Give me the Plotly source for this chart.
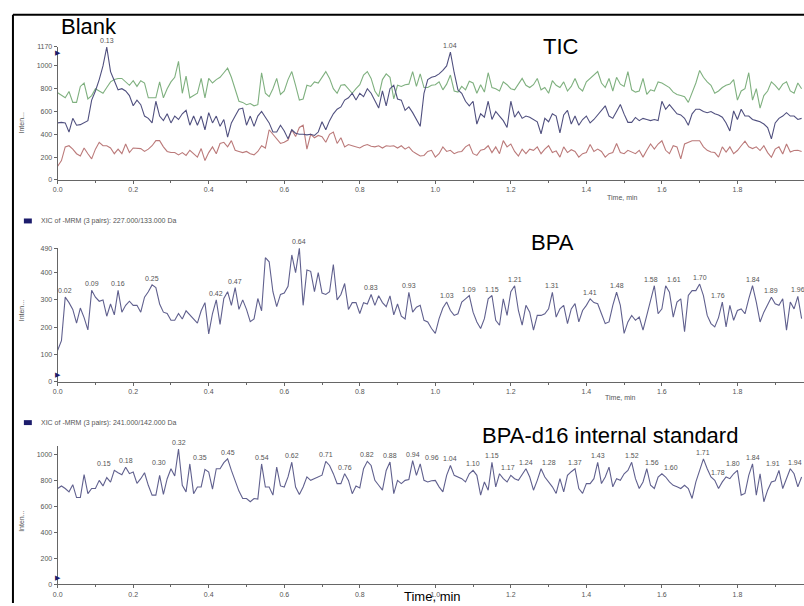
import plotly.graph_objects as go

W, H = 804, 606

# ---------------- data ----------------
time_min = [round(i * 0.01, 2) for i in range(198)]

tic_navy = [
    500, 505, 500, 420, 540, 480, 485, 500, 520, 700, 780, 880, 1000, 1165, 950, 870, 790, 800, 780, 740,
    650, 700, 660, 560, 540, 500, 690, 560, 520, 580, 500, 560, 530, 580, 610, 480, 560, 480, 560, 440,
    590, 500, 560, 470, 530, 375, 500, 560, 620, 630, 480, 560, 470, 560, 600, 550, 500, 420, 420, 480,
    430, 360, 440, 410, 400, 400, 395, 400, 390, 420, 510, 440, 520, 580, 620, 640, 700, 720, 760, 700,
    760, 730, 800, 760, 700, 630, 780, 650, 800, 830, 710, 700, 610, 640, 590, 530, 470, 760, 880, 900,
    910, 930, 960, 1000, 1120, 940, 790, 760, 690, 650, 690, 490, 580, 550, 690, 530, 600, 560, 520, 460,
    690, 550, 600, 540, 560, 550, 530, 510, 405, 540, 510, 580, 560, 413, 570, 610, 490, 560, 480, 530,
    560, 500, 530, 570, 600, 650, 560, 540, 600, 662, 577, 505, 505, 548, 520, 540, 530, 520, 530, 520,
    690, 620, 660, 620, 580, 570, 540, 480, 580, 620, 620, 600, 590, 600, 580, 570, 550, 500, 430, 605,
    530, 620, 560, 560, 530, 520, 510, 490, 460, 360, 500, 540, 560, 590, 560, 560, 530, 540,
]

tic_green = [
    765, 740, 720, 775, 680, 680, 820, 850, 710, 740, 800, 780, 760, 810, 860, 880, 890, 890, 860, 830,
    870, 820, 870, 850, 720, 720, 720, 860, 720, 800, 860, 900, 1040, 760, 910, 720, 740, 760, 890, 720,
    890, 850, 880, 900, 940, 980, 900, 800, 690, 680, 660, 670, 650, 660, 940, 760, 730, 800, 890, 750,
    780, 880, 950, 830, 700, 710, 830, 820, 860, 850, 900, 950, 890, 800, 760, 830, 835, 800, 760, 800,
    835, 920, 950, 890, 780, 730, 880, 930, 900, 710, 830, 820, 835, 840, 950, 820, 930, 810, 810, 830,
    835, 860, 790, 840, 920, 780, 770, 820, 790, 865, 850, 760, 835, 770, 940, 810, 800, 780, 860, 835,
    800, 790, 835, 890, 830, 810, 835, 890, 790, 810, 760, 870, 830, 810, 860, 780, 820, 890, 810, 780,
    860, 890, 920, 950, 850, 810, 890, 780, 900, 840, 820, 950, 790, 770, 780, 890, 750, 790, 780, 860,
    850, 830, 810, 770, 750, 740, 730, 680, 760, 850, 960, 900, 860, 830, 760, 780, 810, 830, 840, 880,
    700, 780, 800, 940, 700, 800, 630, 740, 780, 860, 830, 790, 840, 860, 780, 760, 850, 800,
]

tic_red = [
    120, 170, 290, 300, 270, 230, 210, 280, 230, 185, 270, 330, 300, 300, 280, 230, 270, 230, 315, 240,
    280, 275, 275, 250, 270, 300, 345, 345, 290, 250, 240, 240, 220, 240, 215, 260, 230, 200, 275, 170,
    240, 290, 230, 320, 330, 290, 345, 260, 250, 240, 250, 230, 220, 250, 300, 280, 440, 400, 360, 320,
    330, 350, 440, 380, 460, 480, 270, 400, 370, 390, 380, 330, 400, 420, 320, 370, 290, 310, 300, 290,
    280, 300, 310, 295, 290, 300, 280, 300, 295, 300, 280, 300, 270, 290, 250, 230, 210, 215, 250, 260,
    200, 230, 290, 250, 260, 230, 245, 250, 290, 310, 230, 215, 260, 270, 300, 240, 290, 230, 345, 290,
    315, 250, 210, 270, 230, 270, 260, 290, 230, 270, 300, 240, 255, 200, 290, 240, 265, 250, 200, 230,
    240, 310, 250, 270, 250, 200, 230, 240, 320, 240, 230, 260, 245, 230, 260, 200, 260, 315, 270, 315,
    344, 260, 230, 300, 290, 185, 315, 330, 344, 344, 344, 290, 260, 245, 240, 200, 290, 245, 290, 230,
    258, 300, 340, 290, 275, 290, 258, 300, 240, 199, 270, 290, 228, 315, 245, 258, 260, 250,
]

bpa = [
    115, 150, 310, 290, 265, 215, 270, 235, 190, 335, 310, 295, 300, 240, 285, 245, 335, 255, 280, 295,
    280, 280, 255, 310, 330, 355, 345, 285, 255, 250, 225, 225, 250, 230, 260, 245, 230, 215, 260, 290,
    175, 250, 300, 210, 305, 330, 280, 345, 265, 300, 265, 220, 230, 305, 260, 455, 440, 330, 275, 320,
    325, 350, 465, 400, 490, 280, 410, 405, 330, 400, 325, 320, 330, 430, 300, 320, 360, 265, 290, 290,
    250, 290, 285, 320, 280, 315, 290, 275, 315, 245, 285, 240, 230, 328, 255, 273, 280, 225, 219, 195,
    177, 231, 270, 292, 261, 243, 249, 292, 304, 316, 255, 219, 195, 231, 304, 316, 225, 207, 304, 243,
    330, 352, 261, 207, 280, 255, 189, 243, 243, 249, 267, 328, 237, 267, 280, 213, 267, 286, 219, 261,
    280, 304, 290, 286, 249, 213, 219, 280, 328, 280, 177, 219, 243, 225, 237, 189, 243, 300, 352, 249,
    267, 352, 328, 237, 292, 304, 183, 316, 334, 334, 358, 316, 243, 213, 201, 235, 292, 201, 280, 225,
    261, 267, 249, 304, 352, 292, 219, 255, 285, 310, 286, 280, 304, 189, 292, 267, 313, 231,
]

bpa_d16 = [
    740, 760, 740, 714, 770, 670, 670, 847, 700, 740, 740, 803, 760, 825, 790, 880, 862, 847, 905, 855,
    867, 780, 816, 862, 765, 689, 689, 842, 694, 816, 893, 837, 1045, 765, 714, 930, 700, 752, 752, 888,
    867, 735, 893, 893, 940, 970, 880, 800, 720, 663, 663, 638, 663, 658, 930, 752, 752, 689, 905, 760,
    752, 830, 943, 752, 694, 752, 830, 803, 816, 830, 843, 950, 918, 855, 778, 778, 855, 803, 700, 760,
    745, 893, 950, 918, 803, 765, 727, 880, 945, 700, 803, 778, 803, 810, 956, 842, 931, 803, 791, 800,
    803, 753, 714, 842, 918, 842, 829, 816, 791, 854, 880, 842, 689, 791, 727, 943, 753, 854, 816, 791,
    842, 816, 803, 850, 893, 829, 727, 803, 893, 829, 791, 753, 702, 816, 714, 842, 870, 893, 740, 702,
    778, 778, 816, 943, 778, 829, 905, 753, 816, 803, 854, 880, 943, 816, 740, 791, 893, 765, 740, 829,
    854, 829, 791, 765, 753, 740, 765, 740, 663, 791, 880, 969, 893, 829, 803, 740, 791, 829, 816, 854,
    880, 689, 702, 842, 931, 689, 854, 638, 727, 791, 800, 880, 740, 816, 893, 854, 753, 829,
]

tic_peaks = [0.13, 1.04]
bpa_peaks = [0.02, 0.09, 0.16, 0.25, 0.42, 0.47, 0.64, 0.83, 0.93, 1.03, 1.09, 1.15, 1.21,
             1.31, 1.41, 1.48, 1.58, 1.61, 1.70, 1.76, 1.84, 1.89, 1.96]
d16_peaks = [0.15, 0.18, 0.30, 0.32, 0.35, 0.45, 0.54, 0.62, 0.71, 0.76, 0.82, 0.88, 0.94,
             0.96, 1.04, 1.10, 1.15, 1.17, 1.24, 1.28, 1.37, 1.43, 1.52, 1.56, 1.60, 1.71,
             1.78, 1.80, 1.84, 1.91, 1.94]

x_ticks = [0.0, 0.2, 0.4, 0.6, 0.8, 1.0, 1.2, 1.4, 1.6, 1.8]
x_tick_text = ["0.0", "0.2", "0.4", "0.6", "0.8", "1.0", "1.2", "1.4", "1.6", "1.8"]
tic_yticks = [0, 200, 400, 600, 800, 1000, 1170]
bpa_yticks = [0, 100, 200, 300, 400, 490]
d16_yticks = [0, 200, 400, 600, 800, 1000]

# label displacement (pixels) used by the original software to avoid label collisions
bpa_label_shift = {1.58: -3, 1.61: 8, 1.76: -4}
d16_label_shift = {0.15: -10, 0.30: -12, 0.35: 10, 0.96: 12, 1.17: 8, 1.28: 8, 1.56: 5,
                   1.60: 9, 1.78: -12, 1.80: -4, 1.91: -6, 1.94: 5}

# ---------------- figure ----------------
def fx(p):
    return p / W

def fy(p):
    return 1 - p / H

fig = go.Figure()
lw = 1.1
fig.add_trace(go.Scatter(x=time_min, y=tic_green, mode="lines", line=dict(color="#7fb07f", width=lw),
                         xaxis="x", yaxis="y", hoverinfo="skip"))
fig.add_trace(go.Scatter(x=time_min, y=tic_red, mode="lines", line=dict(color="#bb7a7a", width=lw),
                         xaxis="x", yaxis="y", hoverinfo="skip"))
fig.add_trace(go.Scatter(x=time_min, y=tic_navy, mode="lines", line=dict(color="#50507f", width=lw),
                         xaxis="x", yaxis="y", hoverinfo="skip"))
fig.add_trace(go.Scatter(x=time_min, y=bpa, mode="lines", line=dict(color="#60608e", width=lw),
                         xaxis="x2", yaxis="y2", hoverinfo="skip"))
fig.add_trace(go.Scatter(x=time_min, y=bpa_d16, mode="lines", line=dict(color="#60608e", width=lw),
                         xaxis="x3", yaxis="y3", hoverinfo="skip"))

axis_col = "#666666"
tick_font = dict(family="Arial, Liberation Sans, sans-serif", size=7, color="#555555")
xrange = [0, (W - 53) / 380.0]

def xaxis_cfg(anchor):
    return dict(domain=[fx(53), 1.0], range=xrange, anchor=anchor, showline=True, linecolor=axis_col,
                linewidth=1, ticks="outside", ticklen=3, tickcolor=axis_col, tickvals=x_ticks,
                ticktext=x_tick_text, tickfont=tick_font, showgrid=False, zeroline=False,
                minor=dict(tickvals=[0.1, 0.3, 0.5, 0.7, 0.9, 1.1, 1.3, 1.5, 1.7, 1.9],
                           ticks="outside", ticklen=2, tickcolor=axis_col))

def yaxis_cfg(anchor, top_px, bottom_px, rng, vals):
    return dict(domain=[fy(bottom_px), fy(top_px)], range=rng, anchor=anchor, showline=True,
                linecolor=axis_col, linewidth=1, ticks="outside", ticklen=3, tickcolor=axis_col,
                tickvals=vals, tickfont=tick_font, showgrid=False, zeroline=False)

layout = dict(
    width=W, height=H, autosize=False, margin=dict(l=0, r=0, t=0, b=0),
    paper_bgcolor="white", plot_bgcolor="white", showlegend=False,
    xaxis=xaxis_cfg("y"), yaxis=yaxis_cfg("x", 43, 178, [0, 1170], tic_yticks),
    xaxis2=xaxis_cfg("y2"), yaxis2=yaxis_cfg("x2", 247, 382, [0, 490], bpa_yticks),
    xaxis3=xaxis_cfg("y3"), yaxis3=yaxis_cfg("x3", 447, 587, [0, 1070], d16_yticks),
)
fig.update_layout(**layout)

big = dict(family="Arial, Liberation Sans, sans-serif", size=22, color="black")
small = dict(family="Arial, Liberation Sans, sans-serif", size=7, color="#555555")
ann = []

def paper_text(text, x, y, font, xanchor="center", angle=0):
    ann.append(dict(text=text, x=fx(x), y=fy(y), xref="paper", yref="paper", showarrow=False,
                    font=font, xanchor=xanchor, yanchor="middle", textangle=angle))

paper_text("Blank", 85, 23, big)
paper_text("TIC", 559, 43, big)
paper_text("BPA", 551, 241, big)
paper_text("BPA-d16 internal standard", 609, 437, big)
paper_text("Time, min", 621, 196, small)
paper_text("Time, min", 619, 398, small)
paper_text("Time, min", 430, 599, dict(family="Arial, Liberation Sans, sans-serif", size=13, color="black"))
paper_text("Inten...", 17, 120, small, angle=-90)
paper_text("Inten...", 17, 310, small, angle=-90)
paper_text("Inten...", 17, 523, small, angle=-90)
paper_text("XIC of -MRM (3 pairs): 227.000/133.000 Da", 34, 220, small, xanchor="left")
paper_text("XIC of -MRM (3 pairs): 241.000/142.000 Da", 34, 424, small, xanchor="left")

peak_font = dict(family="Arial, Liberation Sans, sans-serif", size=7, color="#555555")

def peak_labels(peaks, series, xr, yr, shifts=None):
    shifts = shifts or {}
    for p in peaks:
        v = series[int(round(p * 100))]
        ann.append(dict(text=f"{p:.2f}", x=p, y=v, xref=xr, yref=yr, showarrow=False,
                        font=peak_font, yanchor="bottom", yshift=1, xshift=shifts.get(p, 0)))

peak_labels(tic_peaks, tic_navy, "x", "y")
peak_labels(bpa_peaks, bpa, "x2", "y2", bpa_label_shift)
peak_labels(d16_peaks, bpa_d16, "x3", "y3", d16_label_shift)

tri = dict(size=7, color="#1c1c6c")
ann.append(dict(text="▶", x=0, y=1120, xref="x", yref="y", showarrow=False, font=tri, xanchor="center"))
ann.append(dict(text="▶", x=0, y=25, xref="x2", yref="y2", showarrow=False, font=tri, xanchor="center"))
ann.append(dict(text="▶", x=0, y=50, xref="x3", yref="y3", showarrow=False, font=tri, xanchor="center"))

shapes = [
    dict(type="line", xref="paper", yref="paper", x0=fx(8), x1=1.0, y0=fy(11), y1=fy(11),
         line=dict(color="black", width=2)),
    dict(type="line", xref="paper", yref="paper", x0=fx(8), x1=fx(8), y0=fy(11), y1=0,
         line=dict(color="black", width=2)),
    dict(type="rect", xref="paper", yref="paper", x0=fx(19), x1=fx(27), y0=fy(222), y1=fy(217),
         fillcolor="#1c1c6c", line=dict(width=0)),
    dict(type="rect", xref="paper", yref="paper", x0=fx(19), x1=fx(27), y0=fy(426), y1=fy(421),
         fillcolor="#1c1c6c", line=dict(width=0)),
]
fig.update_layout(annotations=ann, shapes=shapes)

fig.write_html("out.html")
